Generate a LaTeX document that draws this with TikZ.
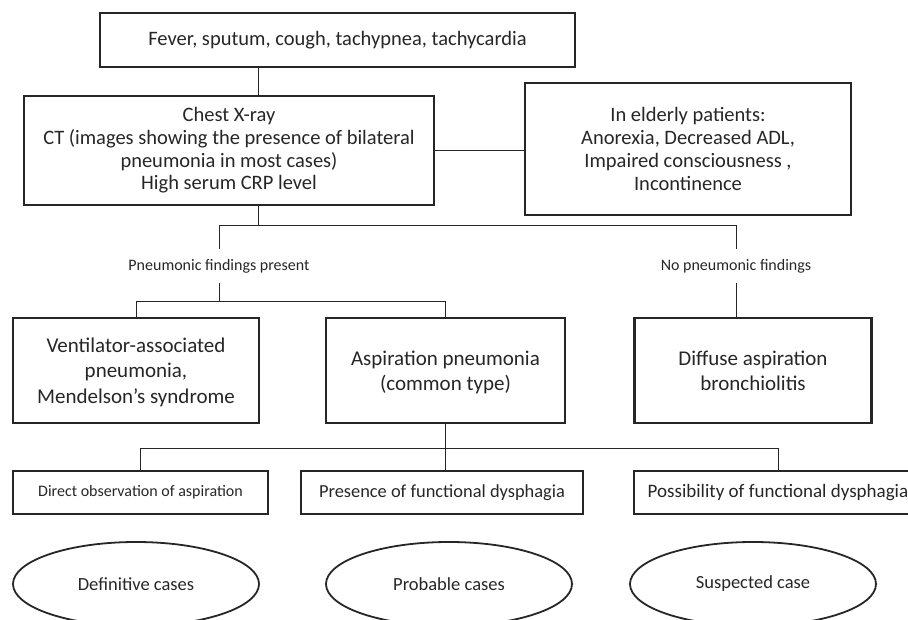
\documentclass[tikz,border=0pt]{standalone}
\usepackage{fontspec}
\setmainfont{Carlito}
\usepackage{xcolor}
\usetikzlibrary{positioning,shapes.geometric}

\definecolor{ink}{HTML}{262626}

\begin{document}
\begin{tikzpicture}[
  x=1pt, y=-1pt,
  box/.style={draw=ink, line width=2.2pt, align=center, inner sep=0pt,
    text=ink},
  bigbox/.style={box, font=\fontsize{20.5}{22.7}\selectfont},
  typebox/.style={box, minimum width=#1, minimum height=105pt, text depth=-7pt,
    font=\fontsize{21}{25.5}\selectfont},
  critbox/.style={box, minimum width=#1, minimum height=43pt},
  casenode/.style={ellipse, draw=ink, line width=1.8pt, minimum width=246pt,
    minimum height=84pt, text=ink, font=\fontsize{18.5}{22}\selectfont},
  branch/.style={text=ink, minimum height=34pt, inner sep=0pt,
    font=\fontsize{16}{19}\selectfont},
  link/.style={draw=ink, line width=0.9pt}
]
  \useasboundingbox (0,0) rectangle (908,620);
  \clip (0,0) rectangle (908,620);

  \node[bigbox, minimum width=475pt, minimum height=54pt] (symptoms) at (337.5,40)
    {Fever, sputum, cough, tachypnea, tachycardia};
  \node[bigbox, minimum width=410pt, minimum height=109pt] (imaging) at (229,150.5)
    {Chest X-ray\\CT (images showing the presence of bilateral\\pneumonia in most cases)\\High serum CRP level};
  \node[bigbox, minimum width=326pt, minimum height=132pt] (elderly) at (688,149)
    {In elderly patients:\\Anorexia, Decreased ADL,\\Impaired consciousness ,\\Incontinence};

  \node[branch] (present) at (219,266) {Pneumonic findings present};
  \node[branch] (absent) at (736,266) {No pneumonic findings};

  \node[typebox=246pt] (vap) at (136,370.5)
    {Ventilator-associated\\pneumonia,\\Mendelson’s syndrome};
  \node[typebox=239pt] (common) at (445.5,370.5)
    {Aspiration pneumonia\\(common type)};
  \node[typebox=237pt] (diffuse) at (753,370.5)
    {Diffuse aspiration\\bronchiolitis};

  \node[critbox=255pt, font=\fontsize{16}{19}\selectfont] (direct) at (140.5,492.5)
    {Direct observation of aspiration};
  \node[critbox=282pt, font=\fontsize{18.4}{22}\selectfont] (presence) at (442,492.5)
    {Presence of functional dysphagia};
  \node[critbox=288pt, font=\fontsize{19}{22}\selectfont] (possible) at (778,492.5)
    {Possibility of functional dysphagia};

  \node[casenode] (definitive) at (136,584) {Definitive cases};
  \node[casenode] (probable) at (449,584) {Probable cases};
  \node[casenode] (suspected) at (753,584) {Suspected case};

  % connectors
  \draw[link] ([xshift=29pt]imaging.north) -- ([xshift=29pt]imaging.north |- symptoms.south);
  \draw[link] (imaging.east) -- (imaging.east -| elderly.west);
  \draw[link] ([xshift=29pt]imaging.south) -- ++(0,19) coordinate (split);
  \draw[link] (present.north) |- (split) -| (absent.north);
  \draw[link] (present.south) -- ++(0,18) coordinate (split2);
  \draw[link] (vap.north) |- (split2) -| (common.north);
  \draw[link] (absent.south) -- (absent.south |- diffuse.north);
  \draw[link] (common.south) -- ++(0,24) coordinate (split3);
  \draw[link] (direct.north) |- (split3) -| (possible.north);
  \draw[link] (split3) -- (split3 |- presence.north);
\end{tikzpicture}
\end{document}
